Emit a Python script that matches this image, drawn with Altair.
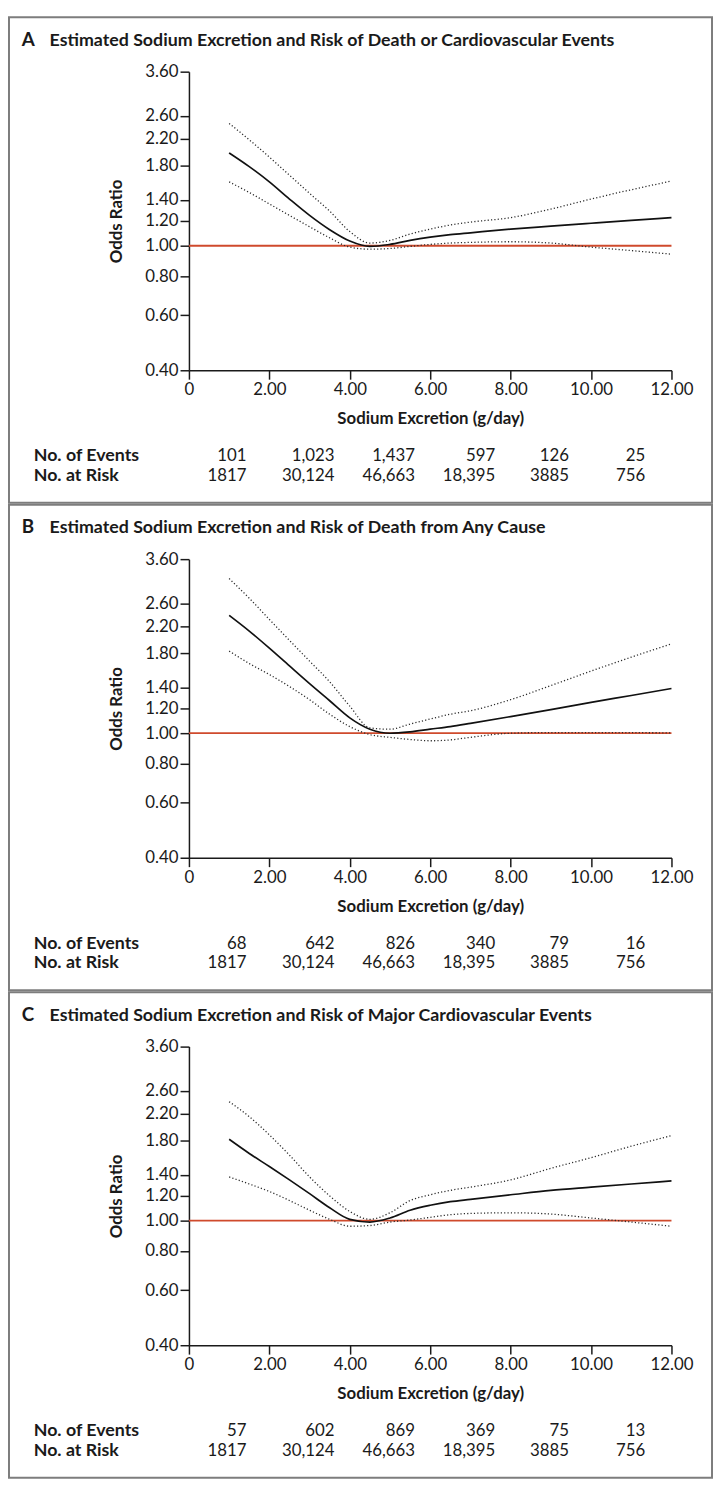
import altair as alt
import pandas as pd

# ---------------- data ----------------
x_grid = [1, 1.5, 2, 2.5, 3, 3.5, 4, 4.5, 5, 5.5, 6, 6.5, 7, 8, 9, 10, 11, 12]

a_or = [1.98, 1.79, 1.60, 1.41, 1.25, 1.125, 1.035, 0.995, 1.01, 1.04, 1.065, 1.085, 1.10, 1.13, 1.155, 1.18, 1.205, 1.23]
a_hi = [2.46, 2.18, 1.92, 1.68, 1.47, 1.29, 1.11, 1.02, 1.04, 1.09, 1.13, 1.165, 1.19, 1.23, 1.31, 1.41, 1.51, 1.61]
a_lo = [1.60, 1.48, 1.36, 1.25, 1.15, 1.06, 0.99, 0.975, 0.98, 0.995, 1.01, 1.02, 1.025, 1.03, 1.02, 0.99, 0.965, 0.94]

b_or = [2.38, 2.12, 1.87, 1.64, 1.44, 1.27, 1.12, 1.03, 1.00, 1.01, 1.03, 1.05, 1.075, 1.13, 1.19, 1.255, 1.32, 1.39]
b_hi = [3.12, 2.70, 2.31, 1.98, 1.70, 1.46, 1.22, 1.04, 1.03, 1.07, 1.11, 1.15, 1.18, 1.28, 1.42, 1.58, 1.75, 1.93]
b_lo = [1.83, 1.67, 1.54, 1.41, 1.28, 1.15, 1.05, 0.99, 0.97, 0.955, 0.946, 0.952, 0.97, 1.0, 1.005, 1.005, 1.004, 1.003]

c_or = [1.82, 1.64, 1.49, 1.35, 1.22, 1.10, 1.01, 0.99, 1.02, 1.08, 1.12, 1.15, 1.17, 1.21, 1.25, 1.28, 1.31, 1.34]
c_hi = [2.40, 2.15, 1.88, 1.62, 1.38, 1.20, 1.07, 1.01, 1.06, 1.16, 1.21, 1.25, 1.28, 1.35, 1.47, 1.59, 1.73, 1.87]
c_lo = [1.38, 1.31, 1.24, 1.16, 1.08, 1.01, 0.96, 0.965, 0.99, 1.005, 1.025, 1.045, 1.055, 1.06, 1.05, 1.02, 0.99, 0.96]

panel_letters = ["A", "B", "C"]
panel_titles = [
    "Estimated Sodium Excretion and Risk of Death or Cardiovascular Events",
    "Estimated Sodium Excretion and Risk of Death from Any Cause",
    "Estimated Sodium Excretion and Risk of Major Cardiovascular Events",
]
events_a = ["101", "1,023", "1,437", "597", "126", "25"]
events_b = ["68", "642", "826", "340", "79", "16"]
events_c = ["57", "602", "869", "369", "75", "13"]
at_risk = ["1817", "30,124", "46,663", "18,395", "3885", "756"]
table_col_x = [1.43, 3.62, 5.62, 7.62, 9.45, 11.35]
row_labels = ["No. of Events", "No. at Risk"]

y_ticks = [0.4, 0.6, 0.8, 1.0, 1.2, 1.4, 1.8, 2.2, 2.6, 3.6]
x_ticks = [0, 2, 4, 6, 8, 10, 12]
ref_level = 1.0

# ---------------- layout / style ----------------
F = "Lato"
W, H = 711, 491
PX0, PX1 = 182, 670
PY0, PY1 = 55, 357
Y_EV, Y_RISK = 444, 464
INK = "#1a1a1a"


def panel(letter, title, or_, hi, lo, events):
    n = len(x_grid)
    curves = pd.DataFrame({
        "x": x_grid * 3,
        "y": or_ + hi + lo,
        "series": ["or"] * n + ["hi"] * n + ["lo"] * n,
    })
    xs = alt.Scale(domain=[0, 12], range=[PX0, PX1], nice=False, zero=False)
    ys = alt.Scale(type="log", domain=[0.4, 3.6], range=[PY1, PY0], nice=False)
    xaxis = alt.Axis(
        values=x_ticks,
        labelExpr="datum.value == 0 ? '0' : format(datum.value, '.2f')",
        title="Sodium Excretion (g/day)",
        offset=-(H - PY1), grid=False, tickSize=9, labelPadding=3,
        titlePadding=13, labelFlush=False, labelOverlap=False,
        domainColor=INK, tickColor=INK, domainWidth=1.5, tickWidth=1.5,
        labelFont=F, labelFontSize=17, labelColor=INK,
        titleFont=F, titleFontSize=17, titleFontWeight="bold", titleColor=INK,
    )
    yaxis = alt.Axis(
        values=y_ticks, format=".2f", title="Odds Ratio",
        offset=-PX0, grid=False, tickSize=9, labelPadding=2,
        titlePadding=20, labelFlush=False, labelOverlap=False,
        domainColor=INK, tickColor=INK, domainWidth=1.5, tickWidth=1.5,
        labelFont=F, labelFontSize=17, labelColor=INK,
        titleFont=F, titleFontSize=17, titleFontWeight="bold", titleColor=INK,
    )
    x_enc = alt.X("x:Q", scale=xs, axis=xaxis)
    y_enc = alt.Y("y:Q", scale=ys, axis=yaxis)

    ref = alt.Chart(pd.DataFrame({"x": [0], "xend": [12], "y": [ref_level]})).mark_rule(
        color="#cf4a2c", strokeWidth=1.8
    ).encode(x=x_enc, x2="xend:Q", y=y_enc)

    base = alt.Chart(curves)
    ci = base.transform_filter("datum.series != 'or'").mark_line(
        strokeDash=[1.2, 2.2], strokeWidth=1.3, color="#2a2a2a", interpolate="monotone"
    ).encode(x=x_enc, y=y_enc, detail="series:N")
    main = base.transform_filter("datum.series == 'or'").mark_line(
        color="#111", strokeWidth=1.7, interpolate="monotone"
    ).encode(x=x_enc, y=y_enc)

    let = alt.Chart(pd.DataFrame({"t": [letter]})).mark_text(
        align="left", baseline="alphabetic", font=F, fontSize=19, fontWeight="bold", color=INK
    ).encode(text="t:N", x=alt.value(13), y=alt.value(29))
    tit = alt.Chart(pd.DataFrame({"t": [title]})).mark_text(
        align="left", baseline="alphabetic", font=F, fontSize=18, fontWeight="bold", color=INK
    ).encode(text="t:N", x=alt.value(41), y=alt.value(29))

    lab_ev = alt.Chart(pd.DataFrame({"t": [row_labels[0]]})).mark_text(
        align="left", baseline="middle", font=F, fontSize=18, fontWeight="bold", color=INK
    ).encode(text="t:N", x=alt.value(25), y=alt.value(Y_EV))
    lab_rk = alt.Chart(pd.DataFrame({"t": [row_labels[1]]})).mark_text(
        align="left", baseline="middle", font=F, fontSize=18, fontWeight="bold", color=INK
    ).encode(text="t:N", x=alt.value(25), y=alt.value(Y_RISK))

    ev = alt.Chart(pd.DataFrame({"x": table_col_x, "t": events})).mark_text(
        align="right", baseline="middle", font=F, fontSize=17, color=INK
    ).encode(x=x_enc, text="t:N", y=alt.value(Y_EV))
    rk = alt.Chart(pd.DataFrame({"x": table_col_x, "t": at_risk})).mark_text(
        align="right", baseline="middle", font=F, fontSize=17, color=INK
    ).encode(x=x_enc, text="t:N", y=alt.value(Y_RISK))

    return alt.layer(ref, ci, main, let, tit, lab_ev, lab_rk, ev, rk).properties(width=W, height=H)


chart = alt.vconcat(
    panel(panel_letters[0], panel_titles[0], a_or, a_hi, a_lo, events_a),
    panel(panel_letters[1], panel_titles[1], b_or, b_hi, b_lo, events_b),
    panel(panel_letters[2], panel_titles[2], c_or, c_hi, c_lo, events_c),
    spacing=0,
).properties(padding=0).configure_view(stroke="#7d7d7d", strokeWidth=2)

chart.save("out.html", embed_options={"renderer": "svg", "actions": False})
